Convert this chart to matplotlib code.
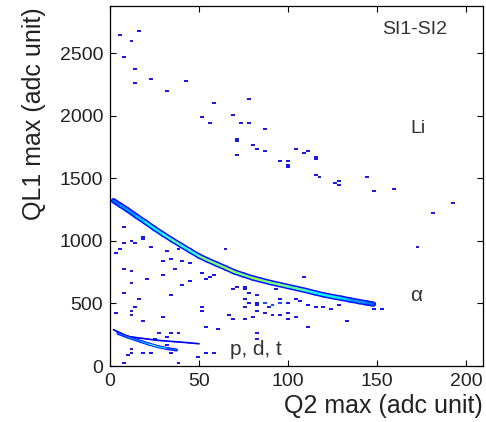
import numpy as np
import matplotlib.pyplot as plt
from matplotlib.collections import LineCollection
from matplotlib.colors import Normalize

plt.rcParams['font.family'] = ['Liberation Sans', 'DejaVu Sans']

# alpha band: centre line and peak counts
alpha_x = [2, 6, 10, 15, 20, 25, 30, 35, 40, 45, 50, 55, 60, 65, 70, 75, 80,
           85, 90, 95, 100, 105, 110, 115, 120, 125, 130, 135, 140, 144, 148]
alpha_y = [1322, 1285, 1248, 1198, 1150, 1100, 1053, 1008, 965, 922, 880, 846,
           815, 784, 752, 728, 705, 686, 668, 652, 636, 620, 604, 586, 569,
           555, 542, 528, 515, 505, 495]
alpha_n = [2, 3, 3, 3, 4, 4, 4, 5, 5, 4, 5, 6, 5, 6, 6, 5, 6, 6, 5, 6, 5, 5,
           5, 4, 4, 4, 4, 3, 3, 3, 2]

# p, d, t bands
pdt1_x = [2, 10, 18, 27, 36, 44, 50]
pdt1_y = [290, 237, 221, 205, 195, 186, 178]
pdt1_n = [1, 1, 2, 1, 2, 1, 1]
pdt2_x = [4.5, 10, 17.6, 22, 27, 32, 37.3]
pdt2_y = [261, 232, 195, 175, 155, 140, 128]
pdt2_n = [2, 3, 3, 4, 5, 3, 2]

# isolated events (Li and background)
scat_x = [5.6, 16.1, 13.1, 6.9, 14.6, 14.6, 22.1, 32.6, 42.7, 51.7, 57.6, 56.2,
          69.7, 77.1, 74.2, 78.7, 86.1, 71.2, 72.6, 72.6, 80.1, 81.6, 86.1,
          96.6, 99.6, 101.1, 101.1, 104, 108.6, 110.1, 114.6, 114.6, 116.1,
          117.6, 126.6, 128.1, 129.6, 143.1, 147.6, 159.6, 180.5, 192.5, 173,
          110,
          7.5, 3.8, 5.6, 7.1, 11.8, 14.6, 17.8, 23.8, 30.9, 34.3, 36, 29, 39.7,
          44.6, 8.6, 11.8, 13.1, 20.6, 29.6, 39.7, 44, 50.6, 55.2, 54.3, 65.2,
          58, 68.4, 71.2, 75, 7.9, 14.6, 13.1, 16.9, 33.7, 2.2, 11.2, 19.7, 30,
          52.4, 50.6, 53.9, 60.9, 66.5, 70.2, 75, 76.8, 75, 81.5, 86.1, 88,
          91.8, 96.4, 90.8, 96.4, 80.5, 81.5, 82.4, 76.8, 54.3, 59, 48.7, 38.4,
          8.4, 9.4, 13.1, 17.8, 23.4, 25.3, 31.8, 39.3, 34.6, 27.2, 31.8, 34.6,
          11.2, 78.7, 83.1, 93.6, 96.6, 96.6, 99.6, 104, 107.1, 110.1, 114.6,
          120.8, 123.6, 129.6, 147.6, 153.5, 83.1, 87.6, 90.6, 87.6, 83.1,
          99.6, 101.1, 105.6, 78.7, 133.9, 110.1, 17.8, 38.4]
scat_y = [2645, 2680, 2603, 2475, 2373, 2270, 2293, 2192, 2278, 1995, 2096, 1944,
          2003, 2131, 1944, 1936, 1891, 1816, 1797, 1680, 1763, 1736, 1712,
          1643, 1635, 1613, 1597, 1739, 1699, 1712, 1675, 1660, 1523,
          1512, 1459, 1475, 1440, 1517, 1397, 1421, 1218, 1301, 954,
          714,
          1114, 896, 941, 981, 995, 981, 1021, 955, 915, 848, 773, 837, 837,
          827, 768, 763, 661, 688, 720, 648, 683, 741, 709, 688, 941,
          728, 621, 629, 608, 581, 475, 435, 533, 568, 421, 400, 355, 395,
          475, 435, 315, 296, 408, 381, 368, 528, 475, 488, 501, 475,
          488, 501, 400, 408, 389, 261, 208, 635, 109, 101, 75, 27,
          21, 88, 96, 101, 107, 221, 235, 256, 256, 261, 168, 101,
          141, 587, 568, 621, 528, 507, 501, 536, 517, 483, 469,
          475, 456, 488, 448, 448, 496, 501, 493, 427, 443,
          429, 381, 389, 501, 363, 309, 1030, 940]

cmap = plt.get_cmap('jet')
norm = Normalize(vmin=0, vmax=11)

fig = plt.figure(figsize=(4.86, 4.22), dpi=100)
ax = fig.add_axes([0.2263, 0.1327, 0.7675, 0.8531])

xedges = np.arange(0, 212, 2.2)
yedges = np.arange(0, 2896, 16)
H, _, _ = np.histogram2d(scat_x, scat_y, bins=[xedges, yedges])
H = np.ma.masked_equal(H, 0)
ax.pcolormesh(xedges, yedges, H.T, cmap=cmap, norm=norm, alpha=0.9)


def band(xs, ys, ns, lw_out, lw_in, n_out):
    pts = np.column_stack([xs, ys])
    segs = np.stack([pts[:-1], pts[1:]], axis=1)
    outer = LineCollection(segs, colors=[cmap(norm(n_out))], linewidths=lw_out,
                           capstyle='round')
    ax.add_collection(outer)
    mids = [(a + b) / 2 for a, b in zip(ns[:-1], ns[1:])]
    inner = LineCollection(segs, cmap=cmap, norm=norm, linewidths=lw_in,
                           capstyle='round')
    inner.set_array(np.array(mids))
    ax.add_collection(inner)


band(alpha_x, alpha_y, alpha_n, 3.9, 1.7, 1.6)
band(pdt1_x, pdt1_y, pdt1_n, 1.2, 0.5, 1)
band(pdt2_x, pdt2_y, pdt2_n, 2.2, 0.9, 1.5)

ax.set_xlim(0, 209.5)
ax.set_ylim(0, 2880)
ax.set_xticks([0, 50, 100, 150, 200])
ax.set_yticks([0, 500, 1000, 1500, 2000, 2500])
ax.tick_params(direction='in', top=True, right=True, length=4, width=0.8,
               labelsize=14, pad=5, labelcolor='#222222')
for s in ax.spines.values():
    s.set_linewidth(0.9)

ax.set_xlabel('Q2 max (adc unit)', fontsize=18, color='#222222')
ax.xaxis.set_label_coords(0.732, -0.078)
ax.set_ylabel('QL1 max (adc unit)', fontsize=18, color='#222222')
ax.yaxis.set_label_coords(-0.172, 0.70)

ax.text(171, 2690, 'SI1-SI2', fontsize=14, ha='center', va='center', color='#333333')
ax.text(173, 1900, 'Li', fontsize=14, ha='center', va='center', color='#333333')
ax.text(172, 560, 'α', fontsize=15, ha='center', va='center', color='#333333')
ax.text(82, 130, 'p, d, t', fontsize=15, ha='center', va='center', color='#333333')

fig.savefig('out.png', dpi=100)
